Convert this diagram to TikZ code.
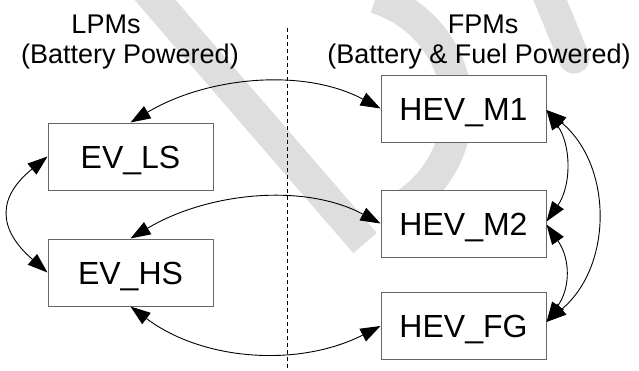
\documentclass[tikz,border=0pt]{standalone}
\usepackage{fontspec}
\setmainfont{Liberation Sans}
\usetikzlibrary{arrows.meta}
\begin{document}
\begin{tikzpicture}[x=1pt,y=1pt,
  box/.style={draw=black!60, line width=1pt, fill=white, minimum width=165pt, minimum height=67pt, inner sep=0pt, font=\fontsize{32}{36}\selectfont, text height=23pt, text depth=0pt},
  lbl/.style={font=\fontsize{27}{31}\selectfont, inner sep=0pt, anchor=base},
  conn/.style={line width=0.9pt, {Triangle[length=20pt,width=14pt]}-{Triangle[length=20pt,width=14pt]}},
  wm/.style={line width=31pt, draw=gray!26},
  divider/.style={line width=0.8pt, dash pattern=on 4pt off 3pt}
]
\useasboundingbox (0,0) rectangle (639,-370);
\begin{scope}
  \clip (0,0) rectangle (639,-370);
  \draw[wm] (143,14) -- (365,-243);
  \draw[wm] ([shift={(73:115)}]342,-108) arc[start angle=73,end angle=-58,radius=115];
  \draw[wm, line cap=round] (546,10) -- (574,-58);
\end{scope}

\coordinate (dtop) at (287,-28);
\coordinate (dbot) at (287,-370);
\draw[divider] (dtop) -- (dbot);

\node[lbl] (lpm) at (106,-33) {LPMs};
\node[lbl] (lpmsub) at (130,-63) {(Battery Powered)};
\node[lbl] (fpm) at (483,-33) {FPMs};
\node[lbl] (fpmsub) at (479,-63) {(Battery \& Fuel Powered)};

\node[box] (evls) at (130.5,-156.5) {EV\_LS};
\node[box] (evhs) at (130.5,-272.5) {EV\_HS};
\node[box] (m1) at (463.5,-108.5) {HEV\_M1};
\node[box] (m2) at (463.5,-223.5) {HEV\_M2};
\node[box] (fg) at (463.5,-326) {HEV\_FG};

\draw[conn] (evls.north) to[out=31,in=152,looseness=0.9] (m1.west);
\draw[conn] (evls.west) to[out=219,in=139,looseness=1.45] (evhs.west);
\draw[conn] (evhs.north) to[out=31,in=152,looseness=0.9] (m2.west);
\draw[conn] (evhs.south) to[out=-37,in=207,looseness=0.93] (fg.west);
\draw[conn] ([yshift=-1.5pt]m1.east) to[out=-55,in=55] ([yshift=2pt]m2.east);
\draw[conn] ([yshift=-1pt]m2.east) to[out=-55,in=55,looseness=1.1] ([yshift=4pt]fg.east);
\draw[conn] ([yshift=-1.5pt]m1.east) to[out=-40,in=40,looseness=1.05] ([yshift=4pt]fg.east);
\end{tikzpicture}
\end{document}
